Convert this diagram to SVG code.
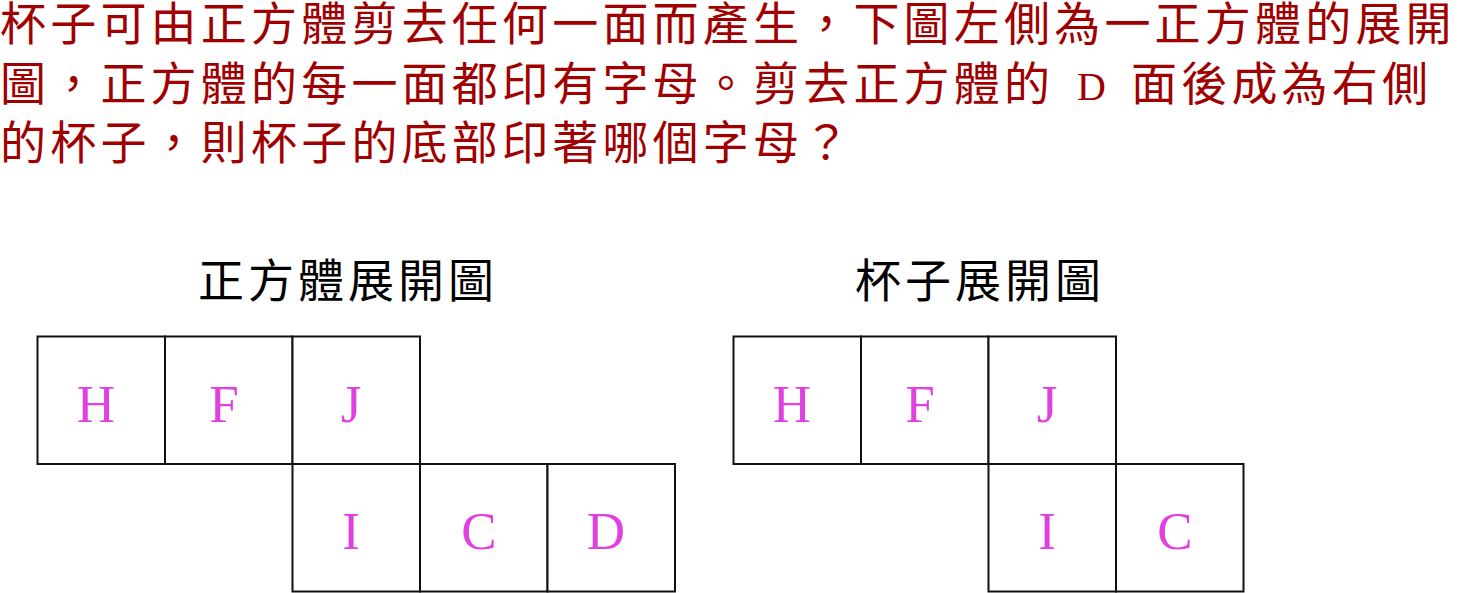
<svg xmlns="http://www.w3.org/2000/svg" width="1458" height="593" viewBox="0 0 1458 593">
<style>
.q{font-family:"Noto Sans CJK TC","Noto Sans CJK SC",sans-serif;font-size:46px;fill:#a00000;letter-spacing:4.2px}
.mono{font-family:"Liberation Serif","DejaVu Serif",serif;font-size:40px;fill:#a00000;letter-spacing:0}
.t{font-family:"Noto Sans CJK TC","Noto Sans CJK SC",sans-serif;font-size:46px;fill:#000;letter-spacing:4px}
.cell{fill:#fff;stroke:#111;stroke-width:2}
.lt{font-family:"Liberation Serif","DejaVu Serif",serif;font-size:53px;fill:#e040e0;text-anchor:middle}
</style>
<rect width="1458" height="593" fill="#fff"/>
<g id="question">
<text class="q" x="0" y="40">杯子可由正方體剪去任何一面而產生，下圖左側為一正方體的展開</text>
<text class="q" y="100"><tspan x="0">圖，正方體的每一面都印有字母。剪去正方體的</tspan><tspan class="mono" x="1077">D</tspan><tspan x="1131">面後成為右側</tspan></text>
<text class="q" x="0" y="159">的杯子，則杯子的底部印著哪個字母？</text>
</g>
<g id="title-cube"><text class="t" x="198" y="297">正方體展開圖</text></g>
<g id="title-cup"><text class="t" x="855" y="297">杯子展開圖</text></g>
<g id="cube-net">
<g id="cube-H"><rect class="cell" x="37.5" y="336.5" width="127.5" height="127.5"/><text class="lt" x="96" y="422">H</text></g>
<g id="cube-F"><rect class="cell" x="165" y="336.5" width="127.5" height="127.5"/><text class="lt" x="224" y="422">F</text></g>
<g id="cube-J"><rect class="cell" x="292.5" y="336.5" width="127.5" height="127.5"/><text class="lt" x="351" y="422">J</text></g>
<g id="cube-I"><rect class="cell" x="292.5" y="464" width="127.5" height="127.5"/><text class="lt" x="351" y="549">I</text></g>
<g id="cube-C"><rect class="cell" x="420" y="464" width="127.5" height="127.5"/><text class="lt" x="479" y="549">C</text></g>
<g id="cube-D"><rect class="cell" x="547.5" y="464" width="127.5" height="127.5"/><text class="lt" x="606" y="549">D</text></g>
</g>
<g id="cup-net">
<g id="cup-H"><rect class="cell" x="733.5" y="336.5" width="127.5" height="127.5"/><text class="lt" x="792" y="422">H</text></g>
<g id="cup-F"><rect class="cell" x="861" y="336.5" width="127.5" height="127.5"/><text class="lt" x="920" y="422">F</text></g>
<g id="cup-J"><rect class="cell" x="988.5" y="336.5" width="127.5" height="127.5"/><text class="lt" x="1047" y="422">J</text></g>
<g id="cup-I"><rect class="cell" x="988.5" y="464" width="127.5" height="127.5"/><text class="lt" x="1047" y="549">I</text></g>
<g id="cup-C"><rect class="cell" x="1116" y="464" width="127.5" height="127.5"/><text class="lt" x="1175" y="549">C</text></g>
</g>
<g id="connectors"/>
</svg>
